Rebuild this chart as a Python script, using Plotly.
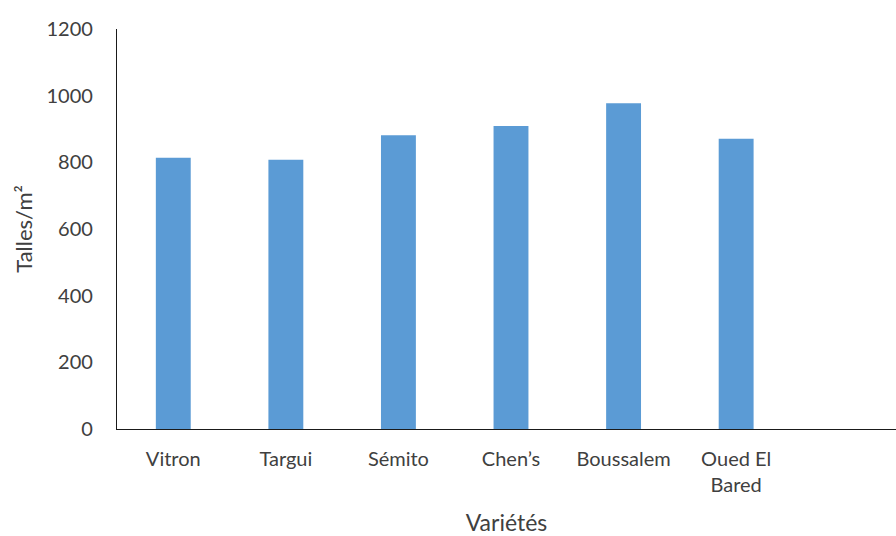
import plotly.graph_objects as go

# Tillers per square metre for each durum wheat variety
varietes = ["Vitron", "Targui", "Sémito", "Chen’s", "Boussalem", "Oued El<br>Bared"]
talles = [814, 808, 881, 909, 977, 871]
yticks = [0, 200, 400, 600, 800, 1000, 1200]

font_family = "Lato, 'Open Sans', sans-serif"
text_color = "#404040"

fig = go.Figure(
    go.Bar(
        x=list(range(len(varietes))),
        y=talles,
        marker=dict(color="#5B9BD5", line=dict(width=0)),
        width=0.31,
    )
)

fig.update_layout(
    width=896,
    height=536,
    margin=dict(l=117, r=0, t=29, b=107),
    paper_bgcolor="white",
    plot_bgcolor="white",
    showlegend=False,
    font=dict(family=font_family, size=20, color=text_color),
    xaxis=dict(
        tickmode="array",
        tickvals=list(range(len(varietes))),
        ticktext=varietes,
        range=[-0.5, 6.42],
        showgrid=False,
        zeroline=False,
        showline=True,
        linecolor="#1a1a1a",
        linewidth=1.3,
        ticks="",
        ticklabelstandoff=12,
        tickfont=dict(size=20, color=text_color),
        title=dict(text="Variétés", font=dict(size=23, color=text_color), standoff=20),
        automargin=False,
    ),
    yaxis=dict(
        range=[0, 1200],
        tickmode="array",
        tickvals=yticks,
        showgrid=False,
        zeroline=False,
        showline=True,
        linecolor="#1a1a1a",
        linewidth=1.3,
        ticks="",
        ticklabelstandoff=19,
        tickfont=dict(size=20, color=text_color),
        title=dict(text="Talles/m²", font=dict(size=22, color=text_color), standoff=7),
        automargin=False,
    ),
)

fig.write_html("out.html")
